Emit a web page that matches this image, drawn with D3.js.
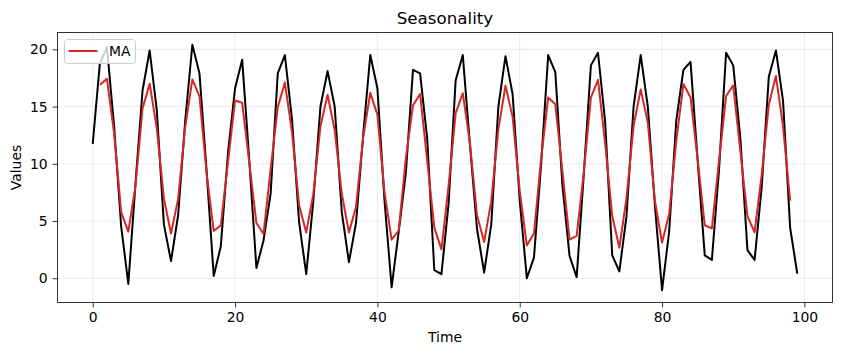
<!DOCTYPE html>
<html><head><meta charset="utf-8">
<script src="https://cdn.jsdelivr.net/npm/d3@7"></script>
<style>body{margin:0;background:#fff;}svg{display:block;font-family:"DejaVu Sans",sans-serif;}</style>
</head><body><svg id="c" width="841" height="355"></svg>
<script>
const timeIdx = d3.range(100);
const values = [11.74,18.75,20.2,13.3,4.5,-0.5,8.2,16.4,19.9,14.7,
4.7,1.5,5.5,13.8,20.4,17.9,9.4,0.2,2.8,10.9,
16.6,19.1,10.3,0.9,3.3,7.4,17.9,19.5,13.9,4.9,
0.35,6.75,15.0,18.1,15.0,5.75,1.4,4.85,12.5,19.5,
16.6,6.8,-0.8,4.1,9.2,18.2,17.9,12.2,0.7,0.35,
6.5,17.3,19.5,11.7,4.3,0.5,4.7,15.0,19.4,16.1,
6.8,0.0,1.8,9.9,19.5,18.0,8.1,1.95,0.1,9.05,
18.6,19.7,13.7,2.0,0.6,5.4,15.0,19.5,15.0,6.3,
-1.05,4.1,13.8,18.2,18.9,10.3,2.0,1.6,9.45,19.7,
18.6,12.25,2.45,1.6,7.95,17.6,19.9,15.5,4.4,0.4];
const maIdx = d3.range(1,99);
const maValues = [16.90,17.42,12.67,5.77,4.07,8.03,14.83,17.0,13.1,6.97,
3.9,6.93,13.23,17.37,15.9,9.17,4.13,4.63,10.1,15.53,
15.33,10.1,4.83,3.87,9.53,14.93,17.1,12.77,6.38,4.0,
7.37,13.28,16.03,12.95,7.38,4.0,6.25,12.28,16.2,14.3,
7.53,3.37,4.17,10.5,15.1,16.1,10.27,4.42,2.52,8.05,
14.43,16.17,11.83,5.5,3.17,6.73,13.03,16.83,14.1,7.63,
2.87,3.9,10.4,15.8,15.2,9.35,3.38,3.7,9.25,15.78,
17.33,11.8,5.43,2.67,7.0,13.3,16.5,13.6,6.75,3.12,
5.62,12.03,16.97,15.8,10.4,4.63,4.35,10.25,15.92,16.85,
11.1,5.43,4.0,9.05,15.15,17.67,13.27,6.77];
const xTicks = [0,20,40,60,80,100];
const yTicks = [0,5,10,15,20];
const titleText = "Seasonality", xLabel = "Time", yLabel = "Values", legendLabel = "MA";

const svg = d3.select("#c");
const L=57.5, R=832.5, T=32.5, B=302.5;
const x = d3.scaleLinear().domain([-4.95,103.95]).range([L,R]);
const ymin = d3.min(values), ymax = d3.max(values), pad=(ymax-ymin)*0.05;
const y = d3.scaleLinear().domain([ymin-pad, ymax+pad]).range([B,T]);

// grid
svg.append("g").selectAll("line").data(xTicks).join("line")
  .attr("x1",d=>x(d)).attr("x2",d=>x(d)).attr("y1",T).attr("y2",B)
  .attr("stroke","#b0b0b0").attr("stroke-opacity",0.3).attr("stroke-width",0.8);
svg.append("g").selectAll("line").data(yTicks).join("line")
  .attr("y1",d=>y(d)).attr("y2",d=>y(d)).attr("x1",L).attr("x2",R)
  .attr("stroke","#b0b0b0").attr("stroke-opacity",0.3).attr("stroke-width",0.8);

const line = d3.line().x(d=>x(d[0])).y(d=>y(d[1]));
svg.append("path").datum(timeIdx.map((t,i)=>[t,values[i]])).attr("d",line)
  .attr("fill","none").attr("stroke","#000").attr("stroke-width",2).attr("stroke-linejoin","round");
svg.append("path").datum(maIdx.map((t,i)=>[t,maValues[i]])).attr("d",line)
  .attr("fill","none").attr("stroke","#d62728").attr("stroke-width",2).attr("stroke-linejoin","round");

// axes
const xa = svg.append("g").attr("transform",`translate(0,${B})`)
  .call(d3.axisBottom(x).tickValues(xTicks).tickSize(4.9).tickPadding(4.9).tickFormat(d3.format("d")));
const ya = svg.append("g").attr("transform",`translate(${L},0)`)
  .call(d3.axisLeft(y).tickValues(yTicks).tickSize(4.9).tickPadding(4.9).tickFormat(d3.format("d")));
[xa,ya].forEach(g=>{g.select(".domain").remove();
  g.selectAll("text").attr("font-size","13.9px").attr("fill","#000").attr("font-family","DejaVu Sans");
  g.selectAll("line").attr("stroke","#000").attr("stroke-width",0.8);});
svg.append("rect").attr("x",L).attr("y",T).attr("width",R-L).attr("height",B-T)
  .attr("fill","none").attr("stroke","#000").attr("stroke-width",0.8);

svg.append("text").attr("x",(L+R)/2).attr("y",24).attr("text-anchor","middle")
  .attr("font-size","16.7px").text(titleText);
svg.append("text").attr("x",(L+R)/2).attr("y",342).attr("text-anchor","middle")
  .attr("font-size","13.9px").text(xLabel);
svg.append("text").attr("transform",`translate(21,${(T+B)/2}) rotate(-90)`).attr("text-anchor","middle")
  .attr("font-size","13.9px").text(yLabel);

// legend
const lg = svg.append("g");
lg.append("rect").attr("x",64.5).attr("y",39.5).attr("width",71).attr("height",24).attr("rx",3)
  .attr("fill","#fff").attr("fill-opacity",0.8).attr("stroke","#ccc").attr("stroke-width",1);
lg.append("line").attr("x1",68.5).attr("x2",97.5).attr("y1",51).attr("y2",51)
  .attr("stroke","#d62728").attr("stroke-width",2);
lg.append("text").attr("x",109).attr("y",56).attr("font-size","13.9px").text(legendLabel);
</script></body></html>
